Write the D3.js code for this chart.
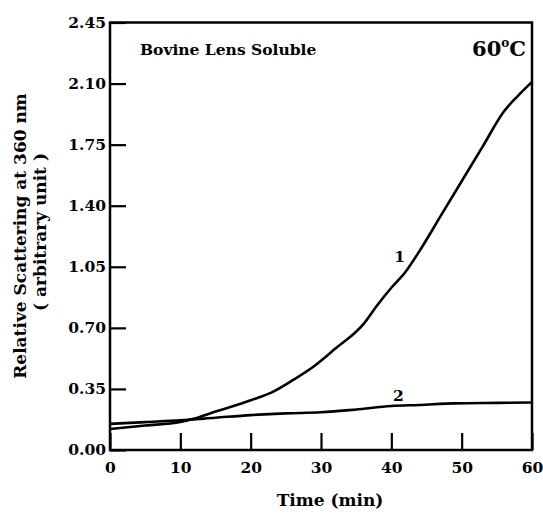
<!DOCTYPE html>
<html>
<head>
<meta charset="utf-8">
<script src="https://cdn.jsdelivr.net/npm/d3@7"></script>
<style>
  body { margin: 0; background: #fff; }
  svg { display: block; }
  text { font-family: "DejaVu Serif", serif; font-weight: bold; fill: #000; }
</style>
</head>
<body>
<svg></svg>
<script>
(function () {
    'use strict';

    const width = 543;
    const height = 514;

    // curve 1: time (min), relative scattering
    const curve1Time = [0, 5, 10, 12, 15, 17, 20, 23, 26, 29, 32, 36, 38, 40, 42, 44, 47, 50, 53, 56, 58, 60];
    const curve1Value = [0.12, 0.14, 0.16, 0.18, 0.22, 0.245, 0.285, 0.33, 0.40, 0.48, 0.58, 0.72, 0.83, 0.93, 1.02, 1.14, 1.34, 1.54, 1.74, 1.94, 2.03, 2.11];

    // curve 2
    const curve2Time = [0, 5, 10, 15, 20, 25, 30, 35, 40, 44, 49, 55, 60];
    const curve2Value = [0.15, 0.16, 0.17, 0.185, 0.20, 0.21, 0.216, 0.232, 0.252, 0.258, 0.267, 0.27, 0.272];

    const xTicks = [0, 10, 20, 30, 40, 50, 60];
    const yTicks = [0, 0.35, 0.70, 1.05, 1.40, 1.75, 2.10, 2.45];

    const margin = ({ top: 22.5, right: 11, bottom: 64, left: 110 });

    const x = d3.scaleLinear()
        .domain([0, 60])
        .range([margin.left, width - margin.right]);

    const y = d3.scaleLinear()
        .domain([0, 2.45])
        .range([height - margin.bottom, margin.top]);

    const svg = d3.select('svg')
        .attr('width', width)
        .attr('height', height)
        .attr('viewBox', [0, 0, width, height]);

    const xAxis = g => g
        .attr('transform', `translate(0,${y(0)})`)
        .call(d3.axisBottom(x).tickValues(xTicks).tickSizeInner(-17).tickSizeOuter(0).tickPadding(12))
        .call(g => g.select('.domain').remove())
        .call(g => g.selectAll('line').attr('stroke-width', 2.2))
        .call(g => g.selectAll('text').attr('font-size', 15.5).attr('font-family', '"DejaVu Serif", serif').attr('font-weight', 'bold'));

    const yAxis = g => g
        .attr('transform', `translate(${x(0)},0)`)
        .call(d3.axisLeft(y).tickValues(yTicks).tickFormat(d3.format('.2f')).tickSizeInner(-16).tickSizeOuter(0).tickPadding(4))
        .call(g => g.select('.domain').remove())
        .call(g => g.selectAll('line').attr('stroke-width', 2.2))
        .call(g => g.selectAll('text').attr('font-size', 15.5).attr('font-family', '"DejaVu Serif", serif').attr('font-weight', 'bold'));

    svg.append('g').call(xAxis);
    svg.append('g').call(yAxis);

    // frame
    svg.append('rect')
        .attr('x', x(0))
        .attr('y', y(2.45))
        .attr('width', x(60) - x(0))
        .attr('height', y(0) - y(2.45))
        .attr('fill', 'none')
        .attr('stroke', '#000')
        .attr('stroke-width', 2.5);

    const line = d3.line()
        .x(d => x(d[0]))
        .y(d => y(d[1]))
        .curve(d3.curveMonotoneX);

    svg.append('path')
        .datum(d3.zip(curve1Time, curve1Value))
        .attr('d', line)
        .attr('fill', 'none')
        .attr('stroke', '#000')
        .attr('stroke-width', 2.6);

    svg.append('path')
        .datum(d3.zip(curve2Time, curve2Value))
        .attr('d', line)
        .attr('fill', 'none')
        .attr('stroke', '#000')
        .attr('stroke-width', 2.6);

    // curve labels
    svg.append('text').attr('x', x(41.2)).attr('y', y(1.08)).attr('text-anchor', 'middle').attr('font-size', 15.5).text('1');
    svg.append('text').attr('x', x(41)).attr('y', y(0.28)).attr('text-anchor', 'middle').attr('font-size', 15.5).text('2');

    // titles
    svg.append('text').attr('x', 140).attr('y', 55).attr('font-size', 15.5).text('Bovine Lens Soluble');
    svg.append('text').attr('x', 526).attr('y', 56).attr('text-anchor', 'end').attr('font-size', 21)
        .text('60')
        .append('tspan').attr('font-size', 12).attr('dy', -9).text('o')
        .clone().attr('font-size', 21).attr('dy', 9).text('C');

    svg.append('text')
        .attr('x', (x(0) + x(60)) / 2 + 9)
        .attr('y', 506)
        .attr('text-anchor', 'middle')
        .attr('font-size', 17)
        .text('Time (min)');

    svg.append('text')
        .attr('transform', 'translate(26,236) rotate(-90)')
        .attr('text-anchor', 'middle')
        .attr('font-size', 17)
        .text('Relative Scattering at 360 nm');

    svg.append('text')
        .attr('transform', 'translate(46,232) rotate(-90)')
        .attr('text-anchor', 'middle')
        .attr('font-size', 17)
        .text('( arbitrary unit )');
})();
</script>
</body>
</html>
